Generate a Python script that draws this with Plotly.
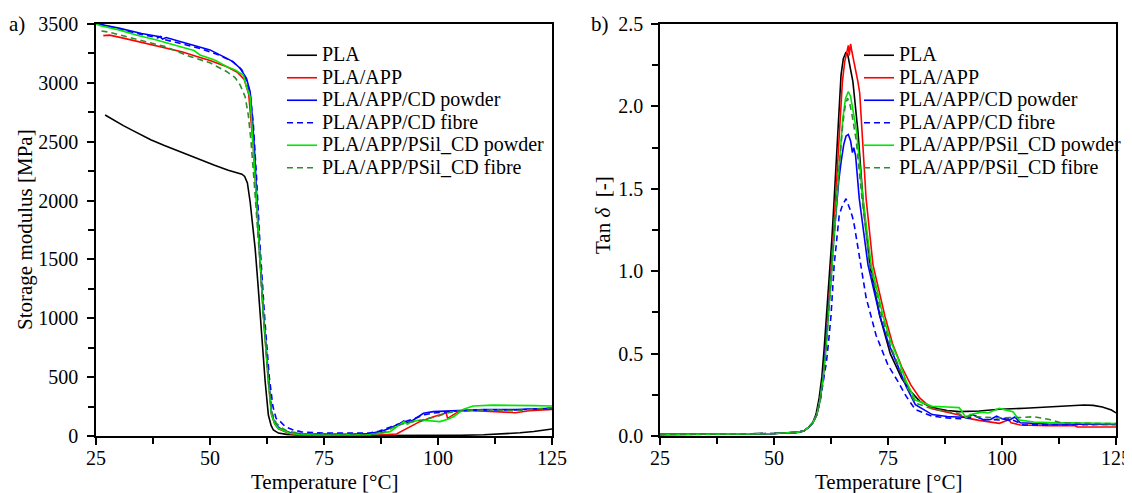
import plotly.graph_objects as go

# storage modulus (left panel), temperature in degC, E' in MPa
t_e_pla = [27.0, 29.0, 31.0, 33.0, 35.0, 37.0, 40.0, 44.0, 48.0, 51.0, 54.0, 56.0, 57.0, 57.6, 58.2, 58.8, 59.4, 59.9,
           60.5, 61.0, 61.6, 62.1, 62.8, 63.4, 63.9, 65.0, 66.8, 70.0, 75.0, 85.0, 95.0, 100.0, 105.0, 110.0, 114.0,
           118.0, 121.0, 123.0, 125.0]
e_pla = [2727, 2680, 2637, 2596, 2556, 2516, 2467, 2405, 2345, 2300, 2258, 2238, 2224, 2205, 2150, 1990, 1790, 1594,
         1300, 1028, 740, 461, 178, 90, 51, 25, 14, 7, 4, 3, 4, 5, 6, 10, 17, 27, 38, 47, 60]

t_e_app = [26.6, 28, 31, 36.1, 40, 44, 47.1, 50, 53.7, 56, 57.5, 58.5, 59.5, 60.6, 61.7, 62.8, 63.5, 64.2, 65, 67.5,
           70, 75, 80, 85, 88, 90.9, 92, 93.9, 96, 99, 101.8, 102.1, 103.5, 104.8, 108, 112, 117, 120, 125]
e_app = [3401, 3405, 3380, 3336, 3300, 3262, 3224, 3190, 3137, 3090, 3030, 2900, 2450, 1740, 1030, 465, 180, 100, 60,
         20, 10, 7, 6, 8, 10, 17, 40, 79, 122, 164, 195, 150, 180, 215, 215, 210, 198, 215, 225]

t_e_cdp = [25.5, 26.5, 30, 35, 39, 39.6, 40.4, 44, 47.4, 50, 53.7, 55, 56.6, 58, 58.8, 59.3, 59.8, 60.6, 61.7, 62.8,
           63.5, 64.2, 65, 66, 67.5, 70, 75, 80, 85, 87.3, 89, 90.5, 91.7, 92.5, 93.2, 94.6, 96, 96.8, 99, 101, 104.8,
           110, 117, 121, 125]
e_cdp = [3500, 3493, 3465, 3420, 3392, 3372, 3385, 3345, 3307, 3280, 3208, 3180, 3124, 3039, 2925, 2700, 2400, 1750,
         1040, 470, 190, 110, 75, 50, 30, 18, 14, 15, 20, 37, 60, 85, 107, 128, 112, 136, 170, 193, 207, 210, 221, 225,
         225, 230, 235]

t_e_cdf = [25.5, 27, 30, 35, 38.5, 39.2, 40, 44, 48, 52, 55, 57, 58, 58.8, 59.5, 60.2, 61, 62, 63, 63.8, 64.5, 65.5,
           66.5, 68, 70, 75, 80, 85, 87, 89, 91, 93, 95, 97, 99, 102, 105, 110, 117, 125]
e_cdf = [3500, 3488, 3455, 3410, 3382, 3395, 3368, 3330, 3290, 3235, 3180, 3110, 3020, 2910, 2650, 2200, 1600, 1000,
         500, 250, 150, 120, 80, 55, 35, 25, 22, 25, 40, 70, 100, 125, 150, 180, 195, 205, 215, 220, 222, 235]

t_e_psp = [25, 26, 30, 34, 38.3, 42, 45.5, 46.5, 47.8, 51, 53.7, 55.5, 57.3, 58, 58.8, 59.5, 60.6, 61.7, 62.8, 63.5,
           64.2, 65, 67.5, 70, 75, 80, 85, 89.5, 91.5, 92.5, 93.3, 94, 96, 98, 100.4, 102, 103.4, 105.6, 107.7, 112,
           116.9, 121, 125]
e_psp = [3500, 3485, 3450, 3405, 3364, 3320, 3285, 3275, 3237, 3195, 3137, 3110, 3067, 2967, 2880, 2444, 1736, 1028,
         461, 178, 105, 65, 23, 12, 8, 8, 12, 37, 90, 122, 100, 118, 136, 128, 122, 140, 164, 227, 255, 262, 263, 258,
         255]

t_e_psf = [26.2, 28, 31, 36.1, 40, 45.6, 50, 53.7, 55.5, 56.6, 57.7, 58.4, 59, 59.8, 60.7, 61.7, 62.8, 63.6, 64.5,
           65.5, 67, 70, 75, 80, 85, 88, 90, 92, 94, 96, 98, 99.7, 102, 104.8, 108, 112, 117, 121, 125]
e_psf = [3441, 3430, 3400, 3350, 3310, 3224, 3170, 3095, 3045, 2982, 2883, 2727, 2500, 2100, 1600, 1000, 470, 200,
         110, 75, 40, 20, 14, 12, 12, 30, 70, 100, 120, 130, 150, 164, 195, 215, 220, 222, 215, 225, 240]

# tan delta (right panel)
t_d_pla = [25, 30, 35, 40, 45, 50, 53, 55, 56.5, 57.5, 58.5, 59.2, 59.9, 60.5, 61, 61.5, 62.1, 62.7, 63.2, 64, 64.7,
           65.2, 65.8, 66.2, 66.7, 67.3, 68.4, 69.5, 71, 73.2, 75.5, 78, 80, 82, 84, 86, 88, 90.6, 95, 99.4, 105,
           110.4, 115, 118, 120, 122, 124, 125]
d_pla = [0.010, 0.010, 0.011, 0.012, 0.013, 0.015, 0.018, 0.022, 0.03, 0.05, 0.08, 0.13, 0.23, 0.36, 0.53, 0.72, 0.94,
         1.2, 1.44, 1.85, 2.19, 2.29, 2.33, 2.31, 2.24, 2.15, 1.85, 1.44, 1.04, 0.73, 0.5, 0.35, 0.27, 0.21, 0.18,
         0.165, 0.155, 0.148, 0.152, 0.162, 0.168, 0.178, 0.184, 0.188, 0.186, 0.176, 0.158, 0.14]

t_d_app = [25, 30, 35, 40, 45, 50, 53, 55, 56.5, 57.5, 58.5, 59.4, 60.2, 60.8, 61.3, 61.8, 62.4, 63, 63.5, 64.3, 65,
           65.5, 66, 66.3, 66.5, 66.8, 67.1, 67.4, 67.8, 68.1, 68.4, 68.8, 69.1, 70.2, 71.7, 74.3, 76, 78, 80, 82,
           84.7, 88, 90.6, 92.1, 95, 99.4, 101.5, 102, 104, 110, 116, 116.5, 125]
d_app = [0.010, 0.010, 0.011, 0.012, 0.013, 0.015, 0.018, 0.022, 0.03, 0.05, 0.08, 0.13, 0.23, 0.36, 0.53, 0.72, 0.94,
         1.2, 1.44, 1.85, 2.15, 2.27, 2.33, 2.37, 2.31, 2.38, 2.33, 2.29, 2.24, 2.21, 2.15, 2.08, 1.95, 1.44, 1.04,
         0.73, 0.56, 0.42, 0.31, 0.23, 0.165, 0.145, 0.128, 0.11, 0.095, 0.077, 0.098, 0.08, 0.067, 0.063, 0.062,
         0.055, 0.055]

t_d_cdp = [25, 30, 35, 40, 45, 50, 53, 55, 56.5, 57.5, 58.5, 59.4, 60.1, 60.7, 61.2, 61.8, 62.4, 63, 63.6, 64.2, 64.7,
           65.3, 65.8, 66.3, 66.8, 67.2, 67.5, 67.9, 68.7, 70.6, 73.2, 75, 76.8, 79, 81, 84.7, 88, 90.6, 92.5, 93.5,
           95, 96, 97.5, 98.8, 100, 101.5, 102.8, 104, 110, 117, 125]
d_cdp = [0.010, 0.010, 0.011, 0.012, 0.013, 0.015, 0.018, 0.022, 0.03, 0.05, 0.08, 0.13, 0.22, 0.34, 0.5, 0.7, 0.92,
         1.16, 1.36, 1.55, 1.66, 1.77, 1.82, 1.83, 1.79, 1.72, 1.75, 1.70, 1.44, 1.04, 0.73, 0.57, 0.45, 0.3, 0.19,
         0.13, 0.118, 0.113, 0.112, 0.13, 0.11, 0.097, 0.1, 0.121, 0.105, 0.095, 0.115, 0.08, 0.073, 0.072, 0.07]

t_d_cdf = [25, 30, 35, 40, 45, 50, 53, 55, 56.5, 57.5, 58.5, 59.4, 60.1, 60.8, 61.5, 62, 62.5, 63.2, 63.8, 64.3, 65,
           65.8, 66.6, 67.2, 67.6, 68.4, 70.2, 72.4, 75, 77.2, 79, 81, 84.7, 88, 91, 93, 94, 95, 96, 98, 99.4, 101,
           102, 103, 104.7, 110, 117, 125]
d_cdf = [0.010, 0.010, 0.011, 0.012, 0.013, 0.015, 0.018, 0.022, 0.03, 0.05, 0.08, 0.13, 0.21, 0.32, 0.45, 0.58, 0.73,
         1.04, 1.22, 1.34, 1.4, 1.44, 1.38, 1.33, 1.28, 1.14, 0.84, 0.61, 0.43, 0.33, 0.24, 0.16, 0.12, 0.11, 0.105,
         0.11, 0.125, 0.11, 0.1, 0.1, 0.097, 0.11, 0.1, 0.09, 0.067, 0.068, 0.069, 0.07]

t_d_psp = [25, 30, 35, 40, 45, 50, 53, 55, 56.5, 57.5, 58.5, 59.4, 60.1, 60.8, 61.4, 62, 62.6, 63.1, 63.8, 64.5, 65.1,
           65.7, 66.3, 66.8, 67.3, 68.1, 69.5, 71.3, 73.9, 75.5, 77.2, 79, 81, 84.7, 88, 90.6, 91.2, 92.1, 93, 95.7,
           97, 99.4, 100.5, 102.4, 103.8, 107, 110.4, 117, 125]
d_psp = [0.010, 0.010, 0.011, 0.012, 0.013, 0.015, 0.018, 0.022, 0.03, 0.05, 0.08, 0.13, 0.22, 0.36, 0.52, 0.74, 0.96,
         1.18, 1.46, 1.74, 1.93, 2.05, 2.09, 2.06, 1.97, 1.85, 1.44, 1.04, 0.73, 0.58, 0.47, 0.33, 0.218, 0.18, 0.176,
         0.172, 0.15, 0.11, 0.13, 0.145, 0.14, 0.168, 0.16, 0.147, 0.097, 0.085, 0.081, 0.077, 0.075]

t_d_psf = [25, 30, 35, 40, 45, 50, 53, 55, 56.5, 57.5, 58.5, 59.4, 60.1, 60.8, 61.4, 62, 62.6, 63.1, 63.8, 64.5, 65.1,
           65.6, 66.1, 66.6, 67.1, 68, 69.3, 71, 73.6, 75.5, 77, 79, 81, 84.7, 88, 90, 92, 95, 99, 102, 104, 107,
           110.4, 112.7, 117, 125]
d_psf = [0.010, 0.010, 0.011, 0.012, 0.013, 0.015, 0.018, 0.022, 0.03, 0.05, 0.08, 0.13, 0.22, 0.36, 0.52, 0.74, 0.96,
         1.18, 1.46, 1.72, 1.9, 2.0, 2.05, 2.02, 1.95, 1.8, 1.44, 1.04, 0.73, 0.55, 0.45, 0.31, 0.2, 0.165, 0.15, 0.14,
         0.12, 0.115, 0.11, 0.112, 0.112, 0.117, 0.1, 0.082, 0.077, 0.075]

names = ['PLA', 'PLA/APP', 'PLA/APP/CD powder', 'PLA/APP/CD fibre', 'PLA/APP/PSil_CD powder', 'PLA/APP/PSil_CD fibre']
colors = ['black', '#ff0000', '#0000ff', '#0000ff', '#00e600', '#2e8b2e']
dashes = ['solid', 'solid', 'solid', '6px,4px', 'solid', '6px,4px']

left = [(t_e_pla, e_pla), (t_e_app, e_app), (t_e_cdp, e_cdp), (t_e_cdf, e_cdf), (t_e_psp, e_psp), (t_e_psf, e_psf)]
right = [(t_d_pla, d_pla), (t_d_app, d_app), (t_d_cdp, d_cdp), (t_d_cdf, d_cdf), (t_d_psp, d_psp), (t_d_psf, d_psf)]

FONT = 'Liberation Serif'
W, H = 1124, 485  # page body has an 8px margin


def px(x):
    return (x - 8) / W


def py(y):
    return (H + 8 - y) / H


def lname(s):
    return '<span style="font-size:20px">' + s + '</span>'


fig = go.Figure()
for i in range(6):
    fig.add_trace(go.Scatter(x=left[i][0], y=left[i][1], name=lname(names[i]), mode='lines',
                             line=dict(color=colors[i], width=1.6, dash=dashes[i]),
                             xaxis='x', yaxis='y', legend='legend'))
for i in range(6):
    fig.add_trace(go.Scatter(x=right[i][0], y=right[i][1], name=lname(names[i]), mode='lines',
                             line=dict(color=colors[i], width=1.6, dash=dashes[i]),
                             xaxis='x2', yaxis='y2', legend='legend2'))

tickfont = dict(family=FONT, size=20, color='black')
base = dict(showline=True, linecolor='black', linewidth=1.5, mirror=True, ticks='outside', ticklen=7,
            tickwidth=1.5, tickcolor='black', showgrid=False, zeroline=False, tickfont=tickfont,
            automargin=False)
inner = dict(ticks='inside', ticklen=6, tickwidth=1.5, tickcolor='black', showticklabels=False,
             showline=False, showgrid=False, zeroline=False, automargin=False)
minor_x = dict(dtick=12.5, ticks='outside', ticklen=6, tickwidth=1.5, tickcolor='black', showgrid=False)

ydom = [py(436), py(24)]
xdom1 = [px(96), px(552)]
xdom2 = [px(660), px(1116)]

legend_common = dict(xanchor='left', yanchor='top', bgcolor='rgba(0,0,0,0)',
                     font=dict(family=FONT, size=15, color='black'), itemwidth=30, tracegroupgap=0)

fig.update_layout(
    width=W, height=H,
    margin=dict(l=0, r=0, t=0, b=0),
    paper_bgcolor='white', plot_bgcolor='white',
    template='none',
    xaxis=dict(base, domain=xdom1, range=[25, 125], tick0=25, dtick=25, anchor='y', minor=minor_x,
               ticklabelstandoff=-4),
    yaxis=dict(base, domain=ydom, range=[0, 3500], tick0=0, dtick=500, anchor='x', ticklabelstandoff=5,
               minor=dict(dtick=250, ticks='outside', ticklen=6, tickwidth=1.5, tickcolor='black', showgrid=False)),
    xaxis2=dict(base, domain=xdom2, range=[25, 125], tick0=25, dtick=25, anchor='y2', minor=minor_x,
                ticklabelstandoff=-4),
    yaxis2=dict(base, domain=ydom, range=[0, 2.5], tick0=0, dtick=0.5, tickformat='.1f', anchor='x2',
                ticklabelstandoff=4,
                minor=dict(dtick=0.25, ticks='outside', ticklen=6, tickwidth=1.5, tickcolor='black', showgrid=False)),
    xaxis3=dict(inner, overlaying='x', side='top', anchor='y', range=[25, 125], tick0=25, dtick=12.5),
    yaxis3=dict(inner, overlaying='y', side='right', anchor='x', range=[0, 3500], tick0=0, dtick=250),
    xaxis4=dict(inner, overlaying='x2', side='top', anchor='y2', range=[25, 125], tick0=25, dtick=12.5),
    yaxis4=dict(inner, overlaying='y2', side='right', anchor='x2', range=[0, 2.5], tick0=0, dtick=0.25),
    legend=dict(legend_common, x=px(282), y=py(39)),
    legend2=dict(legend_common, x=px(859), y=py(39)),
    showlegend=True,
)

title_font = dict(family=FONT, size=21, color='black')
ann = [
    dict(text='a)', x=px(17), y=py(24)),
    dict(text='b)', x=px(600), y=py(24)),
    dict(text='Temperature [°C]', x=px(324), y=py(482)),
    dict(text='Temperature [°C]', x=px(888), y=py(482)),
    dict(text='Storage modulus [MPa]', x=px(25), y=py(230), textangle=-90),
    dict(text='Tan <i>δ</i>\u00a0\u00a0[-]', x=px(603), y=py(215), textangle=-90),
]
for a in ann:
    fig.add_annotation(xref='paper', yref='paper', showarrow=False, xanchor='center', yanchor='middle',
                       font=title_font, **a)

fig.write_html("out.html")
